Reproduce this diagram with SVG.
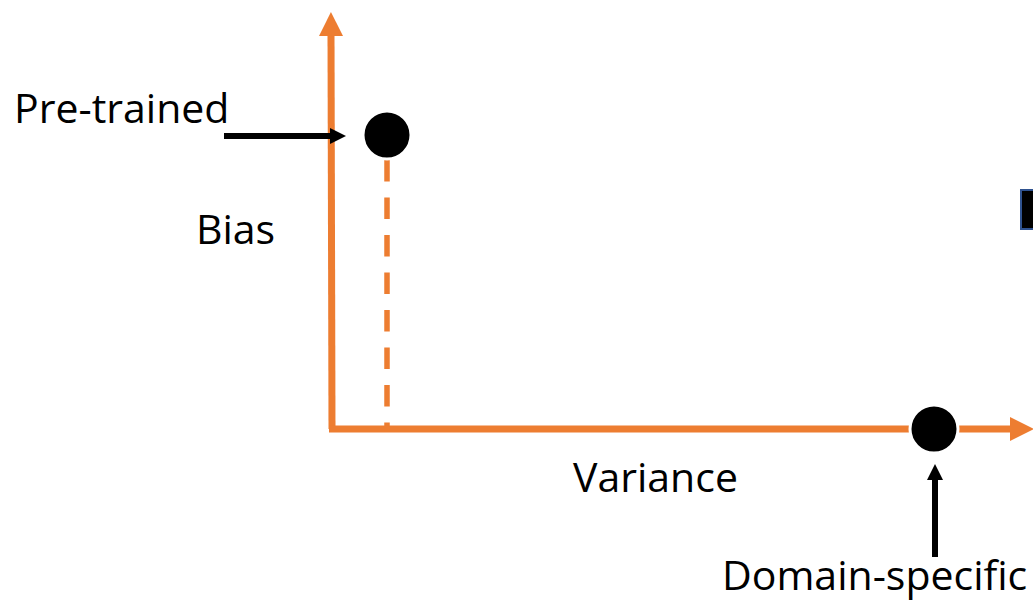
<svg xmlns="http://www.w3.org/2000/svg" width="1033" height="600" viewBox="0 0 1033 600">
  <style>
    .axis { stroke: #ED7D31; stroke-width: 7; fill: none; }
    .dash { stroke: #ED7D31; stroke-width: 5.5; stroke-dasharray: 21.5 16; fill: none; }
    .pointer { stroke: #000; stroke-width: 6; fill: none; }
    .dot { fill: #000; stroke: #fff; stroke-width: 3; }
    .label { font-family: "Open Sans", "Liberation Sans", sans-serif; font-size: 41px; fill: #000; }
  </style>
  <defs>
    <marker id="orangeHead" markerUnits="userSpaceOnUse" markerWidth="26" markerHeight="26" viewBox="0 0 26 26" refX="2" refY="13" orient="auto">
      <path d="M0,1 L24,13 L0,25 Z" fill="#ED7D31"/>
    </marker>
    <marker id="blackHead" markerUnits="userSpaceOnUse" markerWidth="18" markerHeight="18" viewBox="0 0 18 18" refX="1" refY="9" orient="auto">
      <path d="M0,1 L16,9 L0,17 Z" fill="#000"/>
    </marker>
  </defs>

  <!-- connectors: axes, drop line, pointers -->
  <g id="connectors">
    <path class="axis" d="M332,429 L331,34" marker-end="url(#orangeHead)"/>
    <path class="axis" d="M329,429 L1012,429" marker-end="url(#orangeHead)"/>
    <path class="dash" d="M387,160 L387,432"/>
    <path class="pointer" d="M224,136 L331,136" marker-end="url(#blackHead)"/>
    <path class="pointer" d="M935,557 L935,479" marker-end="url(#blackHead)"/>
  </g>

  <g id="pretrained-point">
    <circle class="dot" cx="387" cy="135" r="24"/>
  </g>
  <g id="domain-point">
    <circle class="dot" cx="934" cy="429" r="24"/>
  </g>

  <g id="edge-box">
    <rect x="1021" y="190" width="20" height="39" fill="#000" stroke="#2F528F" stroke-width="2"/>
  </g>

  <g id="labels">
    <text class="label" x="14" y="123">Pre-trained</text>
    <text class="label" x="196" y="244">Bias</text>
    <text class="label" x="573" y="492">Variance</text>
    <text class="label" x="722" y="590">Domain-specific</text>
  </g>
</svg>
